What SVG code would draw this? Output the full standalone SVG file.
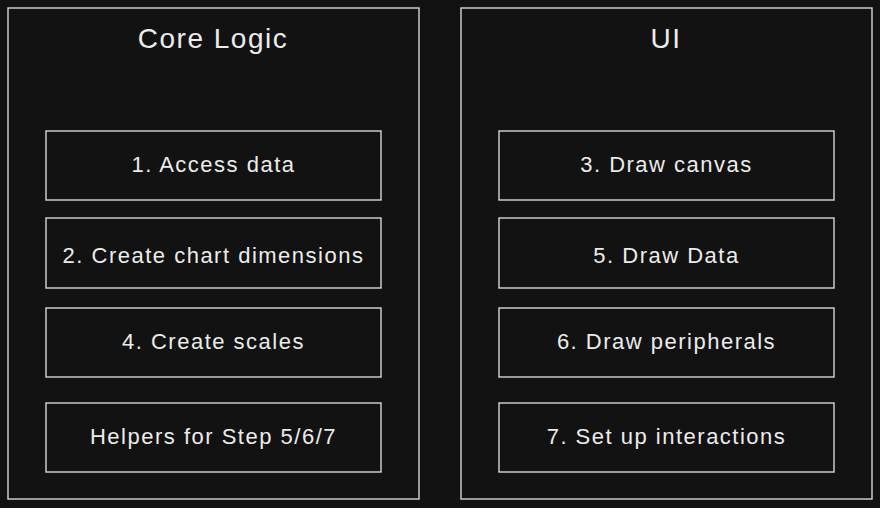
<svg xmlns="http://www.w3.org/2000/svg" width="880" height="508" viewBox="0 0 880 508">
<style>
.bg{fill:#121212}
.frame{fill:none;stroke:#d6d6d6;stroke-width:1.4}
.box{fill:none;stroke:#d6d6d6;stroke-width:1.4}
.title{font-family:"Liberation Sans",Arial,sans-serif;font-size:28px;letter-spacing:1.5px;fill:#ececec;text-anchor:middle}
.label{font-family:"Liberation Sans",Arial,sans-serif;font-size:22px;letter-spacing:1.5px;fill:#ececec;text-anchor:middle}
</style>
<rect class="bg" x="0" y="0" width="880" height="508"/>
<g id="core-logic">
<rect class="frame" x="8" y="8" width="411" height="491"/>
<text class="title" x="213" y="48">Core Logic</text>
</g>
<g id="ui">
<rect class="frame" x="461" y="8" width="411" height="491"/>
<text class="title" x="666" y="48">UI</text>
</g>
<g id="step1">
<rect class="box" x="46" y="131" width="335" height="69"/>
<text class="label" x="213.5" y="172">1. Access data</text>
</g>
<g id="step2">
<rect class="box" x="46" y="218" width="335" height="70"/>
<text class="label" x="213.5" y="263">2. Create chart dimensions</text>
</g>
<g id="step4">
<rect class="box" x="46" y="308" width="335" height="69"/>
<text class="label" x="213.5" y="349">4. Create scales</text>
</g>
<g id="helpers">
<rect class="box" x="46" y="403" width="335" height="69"/>
<text class="label" x="213.5" y="444">Helpers for Step 5/6/7</text>
</g>
<g id="step3">
<rect class="box" x="499" y="131" width="335" height="69"/>
<text class="label" x="666.5" y="172">3. Draw canvas</text>
</g>
<g id="step5">
<rect class="box" x="499" y="218" width="335" height="70"/>
<text class="label" x="666.5" y="263">5. Draw Data</text>
</g>
<g id="step6">
<rect class="box" x="499" y="308" width="335" height="69"/>
<text class="label" x="666.5" y="349">6. Draw peripherals</text>
</g>
<g id="step7">
<rect class="box" x="499" y="403" width="335" height="69"/>
<text class="label" x="666.5" y="444">7. Set up interactions</text>
</g>
<g id="connectors"></g>
</svg>
